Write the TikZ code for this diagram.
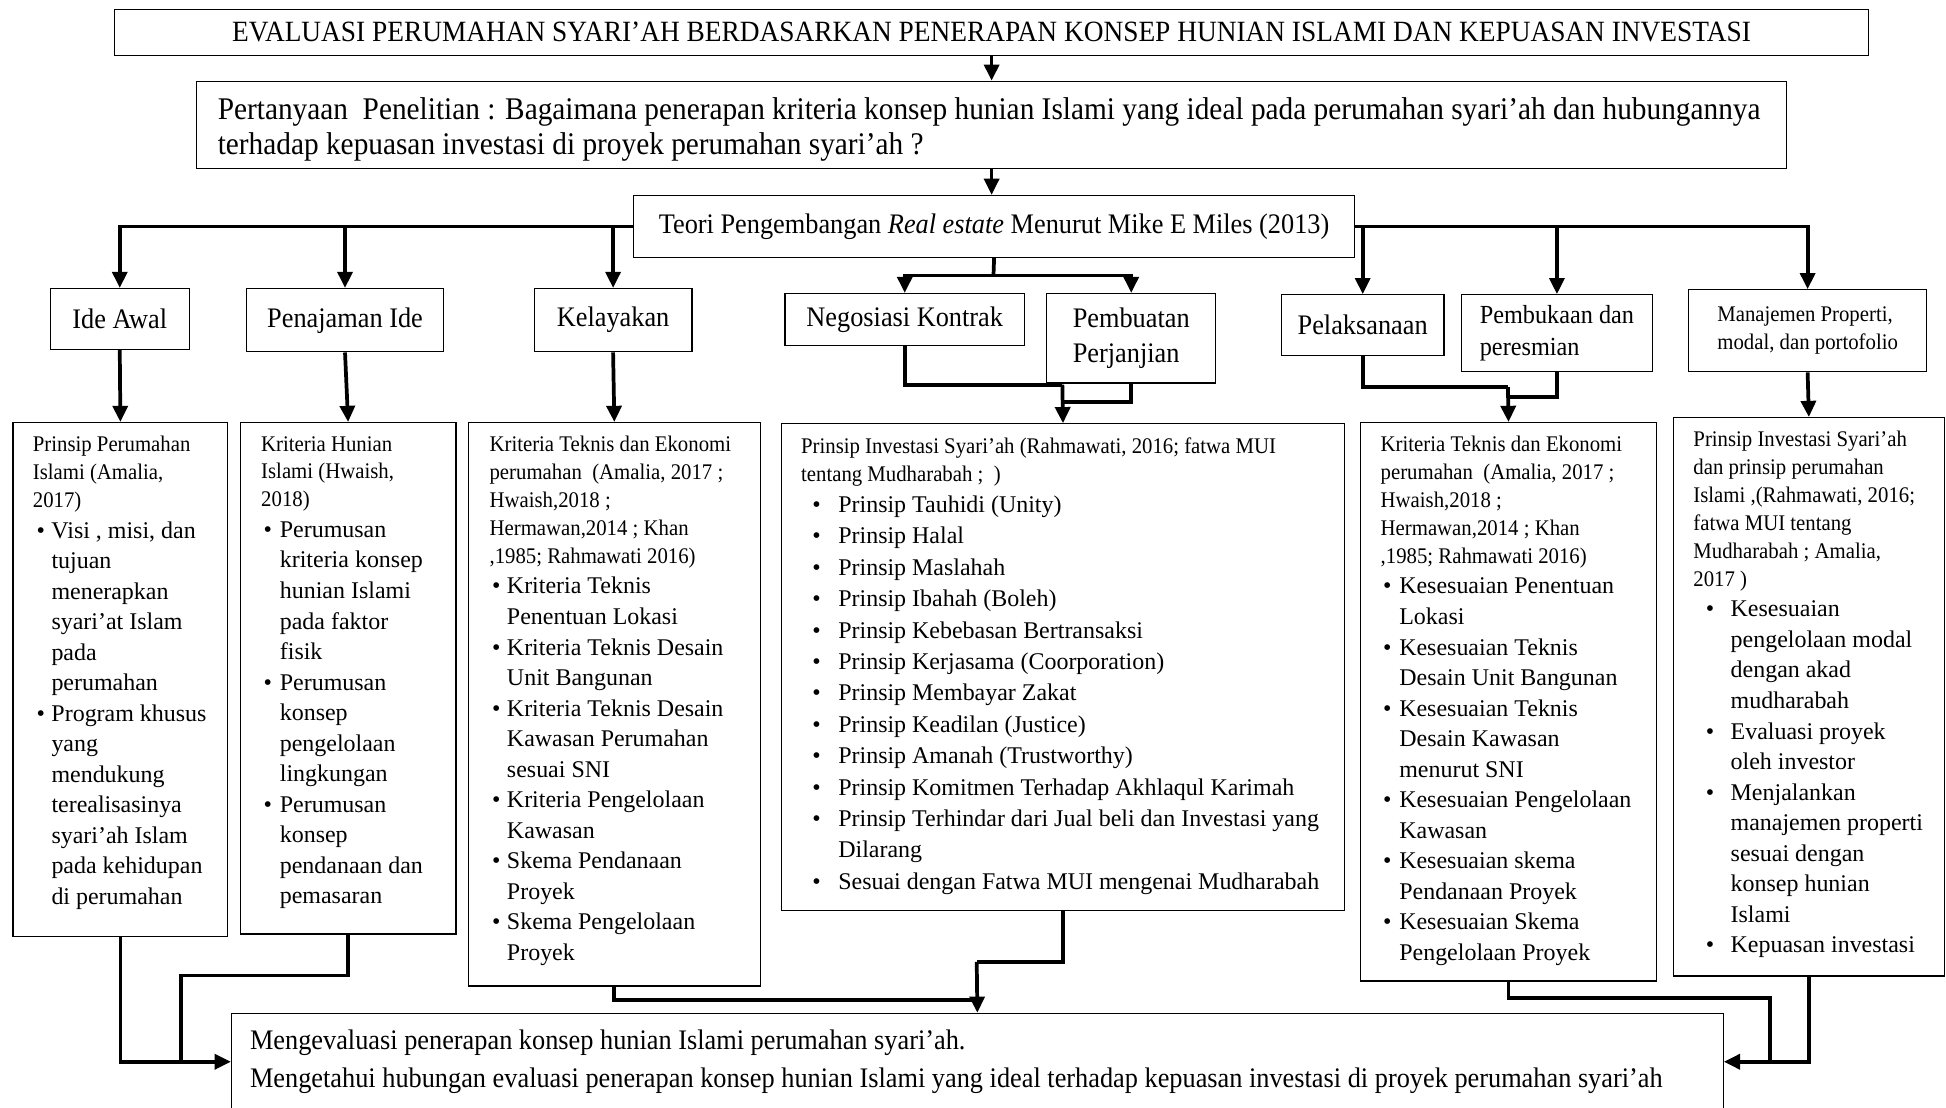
\documentclass[tikz,border=0pt]{standalone}
\usepackage{fontspec}
\setmainfont{Liberation Serif}
\newfontfamily\condfont[FakeStretch=0.93]{Liberation Serif}
\usetikzlibrary{arrows.meta}

\newcommand{\titletxt}{\condfont\fontsize{23.7}{28}\selectfont}
\newcommand{\questtxt}{\condfont\fontsize{25.4}{28}\selectfont}
\newcommand{\bigtxt}{\condfont\fontsize{22.8}{28}\selectfont}
\newcommand{\hdtxt}{\condfont\fontsize{18}{22.5}\selectfont}
\newcommand{\ittxt}{\fontsize{19.3}{24.6}\selectfont}

\newlength{\bulind}
\newlength{\bulgap}
\newcommand{\bul}[1]{\hspace*{\bulind}\makebox[\bulgap][l]{\textbullet}#1}
\newcommand{\bcont}[1]{\hspace*{\dimexpr\bulind+\bulgap\relax}#1}
\newcommand{\boxtext}[4]{\hspace*{#1}\parbox[c][#3][t]{\dimexpr#2-#1\relax}{\raggedright#4}}

\begin{document}
\begin{tikzpicture}[x=1pt, y=-1pt, >={Triangle[width=12pt,length=13pt]},
		box/.style={draw, line width=1pt, anchor=north west, inner xsep=0pt, inner ysep=11pt},
		stage/.style={draw, line width=1pt, anchor=north west, inner sep=0pt, align=left, font=\bigtxt},
		conn/.style={line width=3pt}]
	\useasboundingbox (0,0) rectangle (1568,892);
	
	% judul dan pertanyaan
	\node[stage, minimum width=1413pt, minimum height=37pt, font=\titletxt] (judul) at (92,7)
		{EVALUASI PERUMAHAN SYARI’AH BERDASARKAN PENERAPAN KONSEP HUNIAN ISLAMI DAN KEPUASAN INVESTASI};
	\node[stage, minimum width=1281pt, minimum height=70pt] (tanya) at (158,65)
		{\hspace*{17pt}\parbox{1264pt}{\vspace*{8pt}\raggedright\questtxt Pertanyaan\ \ Penelitian : Bagaimana penerapan kriteria konsep hunian Islami yang ideal pada perumahan syari’ah dan hubungannya\\
		terhadap kepuasan investasi di proyek perumahan syari’ah ?}};
	\node[stage, minimum width=581pt, minimum height=50pt] (teori) at (510,157)
		{Teori Pengembangan \textit{Real estate} Menurut Mike E Miles (2013)};
	
	% tahapan
	\node[stage, minimum width=112pt, minimum height=49pt] (ideawal) at (40,232) {Ide Awal};
	\node[stage, minimum width=159pt, minimum height=51pt] (penajaman) at (198,232) {Penajaman Ide};
	\node[stage, minimum width=127pt, minimum height=51pt] (kelayakan) at (430,232) {Kelayakan};
	\node[stage, minimum width=193pt, minimum height=42pt] (negosiasi) at (632,236) {Negosiasi Kontrak};
	\node[stage, minimum width=136pt, minimum height=72pt] (pembuatan) at (843,236) {Pembuatan\\ Perjanjian};
	\node[stage, minimum width=131pt, minimum height=49pt] (pelaksanaan) at (1032,237) {Pelaksanaan};
	\node[stage, minimum width=154pt, minimum height=62pt, font=\condfont\fontsize{21}{25}\selectfont] (pembukaan) at (1177,237)
		{Pembukaan dan\\ peresmian};
	\node[stage, minimum width=192pt, minimum height=66pt, font=\hdtxt] (manajemen) at (1360,233)
		{Manajemen Properti,\\ modal, dan portofolio};
	
	% kriteria tiap tahapan
	\node[box] (prinsipislami) at (10,340) {\boxtext{16pt}{173pt}{392pt}{%
		{\hdtxt Prinsip Perumahan\\ Islami (Amalia,\\ 2017)\par}%
		{\ittxt\setlength{\bulind}{3pt}\setlength{\bulgap}{12pt}%
		\bul{Visi , misi, dan}\\ \bcont{tujuan}\\ \bcont{menerapkan}\\ \bcont{syari’at Islam}\\
		\bcont{pada}\\ \bcont{perumahan}\\
		\bul{Program khusus}\\ \bcont{yang}\\ \bcont{mendukung}\\ \bcont{terealisasinya}\\
		\bcont{syari’ah Islam}\\ \bcont{pada kehidupan}\\ \bcont{di perumahan}\par}}};
	\node[box] (kriteriahunian) at (193,340) {\boxtext{17pt}{174pt}{390pt}{%
		{\hdtxt Kriteria Hunian\\ Islami (Hwaish,\\ 2018)\par}%
		{\ittxt\setlength{\bulind}{2pt}\setlength{\bulgap}{13pt}%
		\bul{Perumusan}\\ \bcont{kriteria konsep}\\ \bcont{hunian Islami}\\ \bcont{pada faktor}\\ \bcont{fisik}\\
		\bul{Perumusan}\\ \bcont{konsep}\\ \bcont{pengelolaan}\\ \bcont{lingkungan}\\
		\bul{Perumusan}\\ \bcont{konsep}\\ \bcont{pendanaan dan}\\ \bcont{pemasaran}\par}}};
	\node[box] (kriteriateknis) at (377,340) {\boxtext{17pt}{235pt}{432pt}{%
		{\hdtxt Kriteria Teknis dan Ekonomi\\ perumahan\ \ (Amalia, 2017 ;\\ Hwaish,2018 ;\\
		Hermawan,2014 ; Khan\\ ,1985; Rahmawati 2016)\par}%
		{\ittxt\setlength{\bulind}{2pt}\setlength{\bulgap}{12pt}%
		\bul{Kriteria Teknis}\\ \bcont{Penentuan Lokasi}\\
		\bul{Kriteria Teknis Desain}\\ \bcont{Unit Bangunan}\\
		\bul{Kriteria Teknis Desain}\\ \bcont{Kawasan Perumahan}\\ \bcont{sesuai SNI}\\
		\bul{Kriteria Pengelolaan}\\ \bcont{Kawasan}\\
		\bul{Skema Pendanaan}\\ \bcont{Proyek}\\
		\bul{Skema Pengelolaan}\\ \bcont{Proyek}\par}}};
	\node[box] (investasi) at (629,341) {\boxtext{16pt}{454pt}{370pt}{%
		{\hdtxt Prinsip Investasi Syari’ah (Rahmawati, 2016; fatwa MUI\\ tentang Mudharabah ;\ \ )\par}%
		{\fontsize{19.3}{25.3}\selectfont\setlength{\bulind}{9pt}\setlength{\bulgap}{21pt}%
		\bul{Prinsip Tauhidi (Unity)}\\ \bul{Prinsip Halal}\\ \bul{Prinsip Maslahah}\\
		\bul{Prinsip Ibahah (Boleh)}\\ \bul{Prinsip Kebebasan Bertransaksi}\\
		\bul{Prinsip Kerjasama (Coorporation)}\\ \bul{Prinsip Membayar Zakat}\\
		\bul{Prinsip Keadilan (Justice)}\\ \bul{Prinsip Amanah (Trustworthy)}\\
		\bul{Prinsip Komitmen Terhadap Akhlaqul Karimah}\\
		\bul{Prinsip Terhindar dari Jual beli dan Investasi yang}\\ \bcont{Dilarang}\\
		\bul{Sesuai dengan Fatwa MUI mengenai Mudharabah}\par}}};
	\node[box] (kesesuaian) at (1096,340) {\boxtext{16pt}{238pt}{428pt}{%
		{\hdtxt Kriteria Teknis dan Ekonomi\\ perumahan\ \ (Amalia, 2017 ;\\ Hwaish,2018 ;\\
		Hermawan,2014 ; Khan\\ ,1985; Rahmawati 2016)\par}%
		{\ittxt\setlength{\bulind}{2pt}\setlength{\bulgap}{13pt}%
		\bul{Kesesuaian Penentuan}\\ \bcont{Lokasi}\\
		\bul{Kesesuaian Teknis}\\ \bcont{Desain Unit Bangunan}\\
		\bul{Kesesuaian Teknis}\\ \bcont{Desain Kawasan}\\ \bcont{menurut SNI}\\
		\bul{Kesesuaian Pengelolaan}\\ \bcont{Kawasan}\\
		\bul{Kesesuaian skema}\\ \bcont{Pendanaan Proyek}\\
		\bul{Kesesuaian Skema}\\ \bcont{Pengelolaan Proyek}\par}}};
	\node[box] (prinsipmodal) at (1348,336) {\boxtext{16pt}{218pt}{428pt}{%
		{\hdtxt Prinsip Investasi Syari’ah\\ dan prinsip perumahan\\ Islami ,(Rahmawati, 2016;\\
		fatwa MUI tentang\\ Mudharabah ; Amalia,\\ 2017 )\par}%
		{\ittxt\setlength{\bulind}{10pt}\setlength{\bulgap}{20pt}%
		\bul{Kesesuaian}\\ \bcont{pengelolaan modal}\\ \bcont{dengan akad}\\ \bcont{mudharabah}\\
		\bul{Evaluasi proyek}\\ \bcont{oleh investor}\\
		\bul{Menjalankan}\\ \bcont{manajemen properti}\\ \bcont{sesuai dengan}\\ \bcont{konsep hunian}\\ \bcont{Islami}\\
		\bul{Kepuasan investasi}\par}}};
	
	% tujuan penelitian
	\node[stage, minimum width=1202pt, minimum height=78pt] (tujuan) at (186,816)
		{\hspace*{15pt}\parbox{1187pt}{\raggedright\bigtxt Mengevaluasi penerapan konsep hunian Islami perumahan syari’ah.\\[2pt]
		Mengetahui hubungan evaluasi penerapan konsep hunian Islami yang ideal terhadap kepuasan investasi di proyek perumahan syari’ah}};
	
	% panah atas
	\draw[conn,->] (judul.south) -- (tanya.north);
	\draw[conn,->] (tanya.south) -- (tanya.south |- teori.north);
	
	\draw[conn,->] (teori.west) -| (ideawal.north);
	\draw[conn,->] (teori.west) -| (penajaman.north);
	\draw[conn,->] (teori.west) -| (kelayakan.north);
	\draw[conn,->] (teori.east) -| (pelaksanaan.north);
	\draw[conn,->] (teori.east) -| (pembukaan.north);
	\draw[conn,->] (teori.east) -| (manajemen.north);
	
	\coordinate (pisah) at (800.5,222);
	\draw[conn] (teori.south) -- (pisah);
	\draw[conn,->] (pisah) -| (negosiasi.north);
	\draw[conn,->] (pisah) -| (pembuatan.north);
	
	% tahapan ke kriteria
	\draw[conn,->] (ideawal.south) -- (prinsipislami.north);
	\draw[conn,->] (penajaman.south) -- (kriteriahunian.north);
	\draw[conn,->] (kelayakan.south) -- (kriteriateknis.north);
	
	\coordinate (gabungA) at (856,310);
	\coordinate (gabungB) at (856,324);
	\draw[conn] (negosiasi.south) |- (gabungA);
	\draw[conn] (pembuatan.south) |- (gabungB);
	\draw[conn,->] (gabungA) -- (investasi.north);
	
	\coordinate (gabungC) at (1215,312);
	\coordinate (gabungD) at (1215,320);
	\draw[conn] (pelaksanaan.south) |- (gabungC);
	\draw[conn] (pembukaan.south) |- (gabungD);
	\draw[conn,->] (gabungC) -- (kesesuaian.north);
	
	\draw[conn,->] (manajemen.south) -- (prinsipmodal.north);
	
	% kriteria ke tujuan
	\coordinate (belokB) at (146,786);
	\draw[conn,->] (prinsipislami.south) |- (tujuan.west);
	\draw[conn] (kriteriahunian.south) |- (belokB) -- (belokB |- tujuan.west);
	
	\coordinate (belokD) at (787,775);
	\coordinate (belokC) at (787,806);
	\draw[conn] (kriteriateknis.south) |- (belokC);
	\draw[conn] (investasi.south) |- (belokD);
	\draw[conn,->] (belokD) -- (tujuan.north);
	
	\coordinate (belokE) at (1426,804);
	\draw[conn] (kesesuaian.south) |- (belokE) -- (belokE |- tujuan.east);
	\draw[conn,->] (prinsipmodal.south) |- (tujuan.east);
\end{tikzpicture}
\end{document}
